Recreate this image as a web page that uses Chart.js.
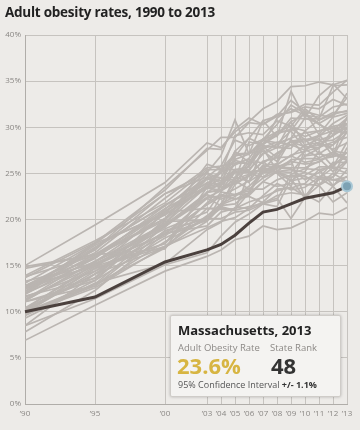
<!DOCTYPE html>
<html>
<head>
<meta charset="utf-8">
<script src="https://cdn.jsdelivr.net/npm/chart.js@4.4.1/dist/chart.umd.min.js"></script>
<style>
  html, body { margin: 0; padding: 0; background: #edebe8; }
  #wrap { position: relative; width: 360px; height: 430px; overflow: hidden; background: #edebe8; }
  #title { position: absolute; left: 5px; top: 3px; font-family: "Open Sans", sans-serif; font-weight: 700; font-size: 13.5px; color: #222; letter-spacing: -0.25px; }
  canvas { position: absolute; left: 0; top: 0; }
  #box { position: absolute; left: 170px; top: 315px; width: 171px; height: 82px; box-sizing: border-box;
         background: #f4f3f1; border: 1px solid #cfccc8; border-radius: 2px; box-shadow: 0 0 3px rgba(0,0,0,0.25);
         font-family: "Open Sans", sans-serif; color: #333; }
  #box .st { position: absolute; left: 7px; top: 5px; font-weight: 700; font-size: 13px; color: #222; }
  #box .l1 { position: absolute; left: 7px; top: 25px; font-size: 9.5px; color: #8c8986; }
  #box .l2 { position: absolute; left: 99px; top: 25px; font-size: 9.5px; color: #8c8986; }
  #box .v1 { position: absolute; left: 6px; top: 34px; font-weight: 700; font-size: 22px; color: #d7b542; }
  #box .v2 { position: absolute; left: 100px; top: 34px; font-weight: 700; font-size: 22px; color: #333; }
  #box .ci { position: absolute; left: 7px; top: 62px; font-size: 9px; color: #555; }
  #box .ci b { color: #333; }
</style>
</head>
<body>
<div id="wrap">
  <canvas id="c" width="360" height="430"></canvas>
  <div id="title">Adult obesity rates, 1990 to 2013</div>
  <div id="box">
    <div class="st">Massachusetts, 2013</div>
    <div class="l1">Adult Obesity Rate</div>
    <div class="l2">State Rank</div>
    <div class="v1">23.6%</div>
    <div class="v2">48</div>
    <div class="ci">95% Confidence Interval <b>+/- 1.1%</b></div>
  </div>
</div>
<script>
// ---- data ----
const years = [1990, 1995, 2000, 2003, 2004, 2005, 2006, 2007, 2008, 2009, 2010, 2011, 2012, 2013];
const xTickYears = [1990, 1995, 2000, 2003, 2004, 2005, 2006, 2007, 2008, 2009, 2010, 2011, 2012, 2013];
const xTickLabels = ["’90", "’95", "’00", "’03", "’04", "’05", "’06", "’07", "’08", "’09", "’10", "’11", "’12", "’13"];
const yTicks = [0, 5, 10, 15, 20, 25, 30, 35, 40];

const massachusetts = [10.0, 11.6, 15.4, 16.7, 17.3, 18.3, 19.6, 20.8, 21.1, 21.7, 22.3, 22.6, 22.9, 23.6];

const MS = [15.0, 19.4, 24.0, 28.3, 27.8, 29.5, 30.6, 32.0, 32.8, 34.4, 34.5, 34.9, 34.6, 35.1];
const WV = [13.7, 17.5, 23.2, 27.7, 27.6, 29.8, 31.0, 30.3, 31.2, 31.7, 32.5, 32.4, 33.8, 35.1];
const AR = [12.5, 17.0, 21.5, 24.4, 25.1, 26.4, 26.0, 28.7, 29.1, 31.0, 30.9, 30.9, 34.5, 34.6];
const TN = [11.3, 16.0, 20.1, 25.0, 24.5, 27.4, 28.8, 30.7, 31.2, 32.9, 31.7, 29.2, 31.1, 33.7];
const KY = [12.8, 16.4, 22.3, 25.6, 25.8, 28.6, 28.0, 28.7, 30.3, 32.4, 31.5, 30.4, 31.3, 33.2];
const LA = [12.2, 17.4, 22.8, 25.1, 26.9, 30.8, 27.1, 30.7, 29.0, 33.9, 31.0, 33.4, 34.7, 33.1];
const OK = [10.2, 14.1, 19.6, 24.4, 24.0, 26.8, 28.8, 28.1, 31.0, 32.0, 31.3, 31.1, 32.2, 32.5];
const AL = [11.9, 16.8, 23.5, 27.5, 28.9, 28.9, 30.5, 30.3, 31.4, 31.6, 32.2, 32.0, 33.0, 32.4];
const IN = [13.8, 16.1, 19.9, 26.0, 25.5, 27.1, 27.2, 27.4, 26.3, 30.0, 29.6, 30.8, 31.4, 31.8];
const SC = [12.8, 15.8, 21.5, 24.5, 25.0, 29.1, 29.4, 29.2, 30.7, 30.1, 32.0, 30.8, 31.6, 31.7];
const MI = [13.9, 17.7, 21.8, 25.4, 25.4, 24.4, 26.2, 28.2, 29.5, 29.6, 31.7, 31.3, 31.1, 31.5];
const TX = [12.8, 16.7, 22.8, 24.6, 25.8, 26.1, 26.1, 28.6, 28.3, 28.8, 31.0, 30.4, 29.2, 30.9];
const OH = [12.4, 17.2, 20.7, 24.5, 24.5, 24.3, 28.4, 28.1, 29.3, 29.8, 29.0, 29.6, 30.1, 30.4];
const NC = [12.5, 16.0, 21.2, 23.6, 25.1, 25.9, 26.6, 28.7, 29.5, 30.1, 28.6, 29.1, 29.6, 29.4];
const IA = [12.2, 16.2, 20.1, 24.5, 24.2, 25.4, 25.7, 27.9, 26.7, 28.5, 28.4, 29.0, 30.4, 31.3];
const ND = [12.5, 15.0, 19.6, 23.6, 25.4, 25.4, 25.4, 27.1, 27.8, 28.4, 27.9, 27.8, 29.7, 31.0];
const NE = [11.2, 15.4, 20.6, 23.4, 23.7, 26.1, 26.5, 26.1, 27.2, 28.1, 27.5, 28.4, 28.6, 29.6];
const WI = [12.7, 15.0, 19.4, 22.9, 23.3, 24.4, 26.6, 25.1, 26.1, 28.7, 26.9, 27.7, 29.7, 29.8];
const KS = [11.1, 13.4, 20.0, 23.8, 23.5, 23.9, 25.9, 27.7, 28.1, 28.8, 29.4, 29.6, 29.9, 30.0];
const MO = [12.0, 16.9, 21.6, 23.9, 25.2, 26.9, 27.2, 28.2, 29.1, 30.6, 31.4, 30.3, 29.6, 30.4];
const PA = [14.7, 16.2, 20.9, 24.0, 23.8, 25.3, 24.0, 27.8, 28.4, 28.1, 28.7, 28.6, 29.1, 30.0];
const GA = [10.1, 14.7, 21.1, 25.2, 23.1, 26.5, 27.1, 28.7, 27.8, 27.7, 29.6, 28.0, 29.1, 30.3];
const DE = [14.9, 16.2, 16.8, 23.5, 24.5, 24.0, 25.9, 28.0, 27.8, 30.6, 28.0, 28.8, 26.9, 31.1];
const AK = [13.1, 17.4, 20.5, 23.5, 24.0, 27.4, 26.2, 27.7, 25.3, 24.2, 25.2, 27.4, 25.7, 28.4];
const SD = [12.8, 15.4, 19.2, 22.9, 24.0, 25.4, 25.3, 27.2, 28.2, 29.6, 27.7, 28.1, 28.1, 29.9];
const VA = [11.6, 14.4, 18.2, 21.7, 23.7, 25.1, 25.2, 25.3, 25.8, 26.0, 27.4, 29.2, 27.4, 27.2];
const MD = [11.2, 15.5, 19.5, 22.4, 23.1, 24.4, 24.9, 26.3, 26.7, 26.8, 28.1, 28.3, 27.6, 28.3];
const IL = [11.9, 15.8, 20.9, 23.4, 23.2, 25.1, 25.1, 25.4, 27.0, 28.5, 28.7, 27.1, 28.1, 29.4];
const ME = [12.0, 15.2, 19.0, 20.8, 23.0, 22.7, 23.1, 25.2, 25.9, 27.0, 27.4, 27.8, 28.4, 28.9];
const NM = [8.5, 14.1, 18.7, 20.2, 21.5, 21.7, 22.9, 25.1, 25.7, 25.6, 25.6, 26.3, 27.1, 26.4];
const ID = [13.3, 15.2, 18.4, 22.3, 21.5, 24.6, 24.1, 25.1, 25.2, 25.1, 26.9, 27.1, 26.8, 29.6];
const AZ = [11.1, 12.8, 18.8, 20.1, 21.2, 21.1, 22.9, 25.8, 25.6, 25.5, 24.3, 25.1, 26.0, 26.8];
const WA = [9.6, 13.0, 19.3, 22.3, 22.6, 23.3, 24.2, 25.9, 26.0, 26.9, 26.2, 26.5, 26.8, 27.2];
const OR = [10.4, 13.7, 20.8, 21.2, 21.2, 23.8, 24.8, 26.3, 25.0, 23.6, 27.6, 26.7, 27.3, 26.5];
const WY = [9.6, 13.4, 18.0, 20.1, 21.7, 24.2, 23.3, 24.5, 25.2, 25.4, 25.1, 24.6, 24.6, 27.8];
const NH = [10.1, 14.7, 17.1, 20.4, 21.7, 22.5, 23.6, 25.1, 25.2, 26.3, 26.0, 26.2, 27.3, 26.7];
const FL = [10.3, 15.2, 18.4, 19.9, 22.5, 22.7, 22.8, 24.1, 25.2, 26.5, 26.6, 26.6, 25.2, 26.4];
const NV = [10.0, 13.0, 16.9, 21.2, 21.1, 21.0, 25.0, 24.6, 25.6, 26.4, 22.4, 24.5, 26.2, 26.2];
const MN = [10.4, 14.9, 17.4, 23.0, 23.1, 24.0, 24.7, 25.6, 25.2, 24.6, 24.8, 25.7, 25.7, 25.5];
const NY = [10.0, 14.7, 17.4, 21.8, 22.7, 22.2, 22.9, 25.5, 25.1, 24.2, 24.5, 24.5, 23.6, 25.4];
const RI = [10.1, 14.1, 17.0, 19.8, 21.4, 21.0, 21.4, 21.7, 22.1, 24.9, 25.5, 25.4, 25.7, 27.3];
const NJ = [11.4, 15.0, 18.5, 21.6, 22.5, 22.2, 22.6, 24.1, 23.6, 23.9, 23.8, 23.7, 24.6, 26.3];
const VT = [9.8, 12.6, 17.1, 19.1, 19.8, 20.2, 21.2, 21.9, 23.3, 23.4, 23.9, 25.4, 23.7, 24.7];
const CT = [9.9, 12.8, 17.6, 20.1, 20.1, 20.8, 21.0, 21.7, 21.4, 24.4, 22.3, 24.5, 25.6, 25.0];
const CA = [9.9, 14.4, 19.2, 22.7, 22.2, 22.7, 23.3, 23.3, 24.3, 24.8, 24.7, 23.8, 25.0, 24.1];
const UT = [7.8, 12.3, 18.5, 19.3, 20.8, 21.2, 21.9, 22.4, 23.1, 23.5, 22.5, 24.4, 24.3, 24.1];
const MT = [9.3, 13.1, 15.2, 18.9, 19.7, 21.3, 21.2, 22.6, 23.9, 23.2, 23.5, 24.6, 24.3, 24.6];
const HI = [8.5, 11.4, 15.1, 16.4, 18.2, 19.7, 20.6, 21.7, 22.6, 22.9, 22.7, 21.9, 23.6, 21.8];
const DC = [11.7, 13.6, 19.8, 19.9, 21.6, 22.2, 22.5, 21.8, 22.3, 20.1, 22.4, 23.7, 21.9, 22.9];
const CO = [6.9, 10.7, 14.4, 16.0, 16.7, 17.8, 18.2, 19.3, 18.9, 19.1, 19.8, 20.7, 20.5, 21.3];

const otherStates = { MS, WV, AR, TN, KY, LA, OK, AL, IN, SC, MI, TX, OH, NC, IA, ND, NE, WI, KS, MO, PA, GA, DE, AK, SD,
  VA, MD, IL, ME, NM, ID, AZ, WA, OR, WY, NH, FL, NV, MN, NY, RI, NJ, VT, CT, CA, UT, MT, HI, DC, CO };

// ---- chart ----
const toPoints = arr => arr.map((v, i) => ({ x: years[i], y: v }));

const datasets = [{
  label: 'Massachusetts',
  data: toPoints(massachusetts),
  borderColor: '#4b413e',
  borderWidth: 3,
  order: 0,
  clip: false,
  pointRadius: massachusetts.map((v, i) => i === massachusetts.length - 1 ? 5 : 0),
  pointBackgroundColor: '#7da2b4',
  pointBorderColor: '#a9c8d6',
  pointBorderWidth: 2,
  tension: 0
}];
Object.keys(otherStates).forEach(k => {
  datasets.push({
    label: k,
    data: toPoints(otherStates[k]),
    borderColor: '#bab5b1',
    borderWidth: 1.7,
    pointRadius: 0,
    order: 1,
    tension: 0
  });
});

new Chart(document.getElementById('c'), {
  type: 'line',
  data: { datasets },
  options: {
    responsive: false,
    animation: false,
    events: [],
    layout: { padding: { top: 35, right: 13, left: 0, bottom: 0 } },
    plugins: { legend: { display: false }, tooltip: { enabled: false }, title: { display: false } },
    scales: {
      x: {
        type: 'linear',
        min: 1990, max: 2013,
        afterBuildTicks: s => { s.ticks = xTickYears.map(v => ({ value: v })); },
        afterFit: s => { s.height = 26; },
        grid: { color: '#c6c3bf', lineWidth: 1, drawTicks: false },
        border: { color: '#b0ada9', width: 1 },
        ticks: {
          autoSkip: false, maxRotation: 0, padding: 5,
          font: { family: 'Open Sans', size: 8 }, color: '#8a8784',
          callback: (v) => xTickLabels[xTickYears.indexOf(v)]
        }
      },
      y: {
        min: 0, max: 40,
        afterBuildTicks: s => { s.ticks = yTicks.map(v => ({ value: v })); },
        afterFit: s => { s.width = 25; },
        grid: { color: '#c6c3bf', lineWidth: 1, drawTicks: false },
        border: { color: '#b0ada9', width: 1 },
        ticks: {
          padding: 4,
          font: { family: 'Open Sans', size: 8 }, color: '#8a8784',
          callback: v => v + '%'
        }
      }
    }
  }
});
</script>
</body>
</html>
